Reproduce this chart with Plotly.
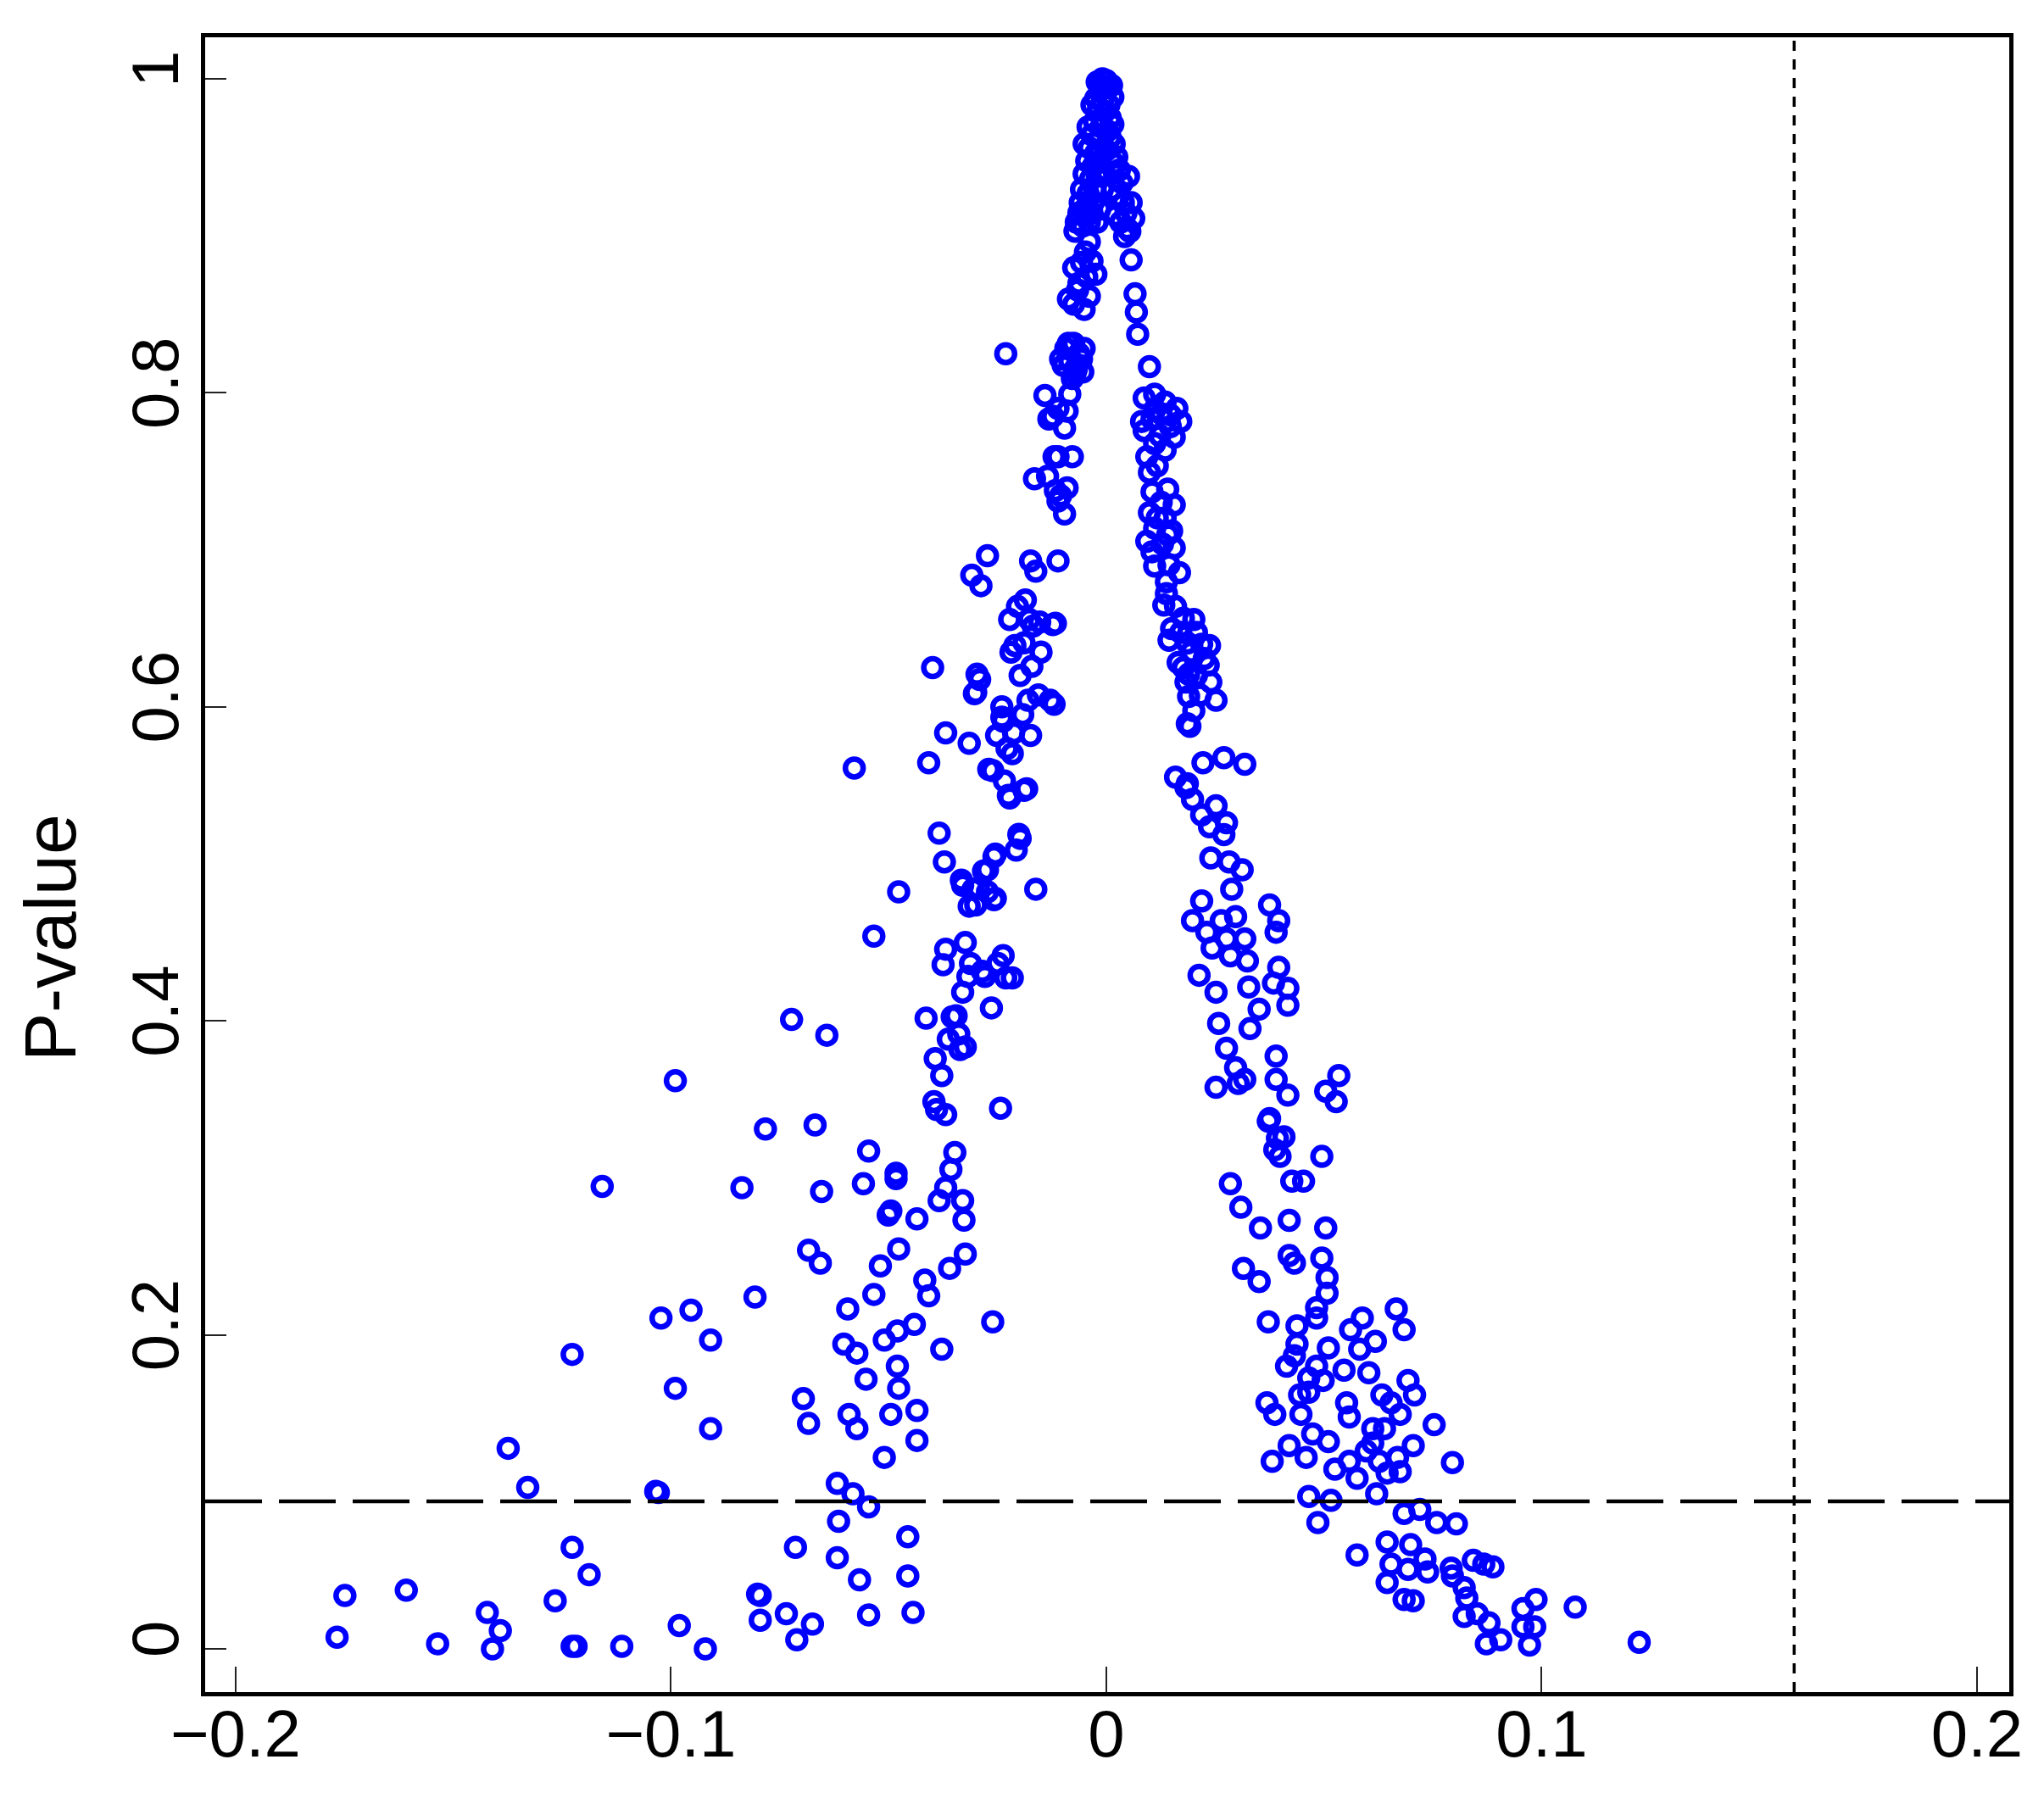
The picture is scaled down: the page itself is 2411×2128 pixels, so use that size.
import plotly.graph_objects as go

# (effect, p-value) pairs, grouped by region
left_tail = [
    (-0.1767, 0.0075), (-0.1749, 0.0340), (-0.1608, 0.0374), (-0.1536, 0.0033),
    (-0.1422, 0.0232), (-0.1392, 0.0116), (-0.1410, 0.0000), (-0.1374, 0.1278),
    (-0.1329, 0.1029), (-0.1266, 0.0307), (-0.1227, 0.1876), (-0.1227, 0.0647),
    (-0.1227, 0.0017), (-0.1218, 0.0017), (-0.1188, 0.0473), (-0.1158, 0.2946),
    (-0.1113, 0.0017), (-0.1035, 0.1004), (-0.1029, 0.0996), (-0.1023, 0.2108),
    (-0.0990, 0.3619), (-0.0990, 0.1660), (-0.0981, 0.0149), (-0.0954, 0.2158),
    (-0.0921, 0.0000), (-0.0909, 0.1967), (-0.0909, 0.1403), (-0.0837, 0.2938),
    (-0.0807, 0.2241), (-0.0795, 0.0340), (-0.0801, 0.0349), (-0.0795, 0.0183),
    (-0.0783, 0.3312), (-0.0723, 0.4009), (-0.0642, 0.3909), (-0.0579, 0.5611),
]

left_low = [
    (-0.0669, 0.3337), (-0.0654, 0.2913), (-0.0546, 0.3171), (-0.0558, 0.2963),
    (-0.0483, 0.3030), (-0.0483, 0.2996), (-0.0495, 0.2789), (-0.0501, 0.2764),
    (-0.0435, 0.2739), (-0.0384, 0.2855), (-0.0369, 0.2938), (-0.0357, 0.3054),
    (-0.0348, 0.3162), (-0.0330, 0.2855), (-0.0327, 0.2731), (-0.0684, 0.2540),
    (-0.0657, 0.2457), (-0.0519, 0.2440), (-0.0477, 0.2548), (-0.0534, 0.2258),
    (-0.0594, 0.2166), (-0.0417, 0.2349), (-0.0408, 0.2249), (-0.0324, 0.2515),
    (-0.0360, 0.2424), (-0.0603, 0.1942), (-0.0573, 0.1884), (-0.0552, 0.1718),
    (-0.0510, 0.1967), (-0.0480, 0.2025), (-0.0441, 0.2067), (-0.0480, 0.1801),
    (-0.0477, 0.1660), (-0.0378, 0.1909), (-0.0261, 0.2083), (-0.0696, 0.1594),
    (-0.0684, 0.1436), (-0.0591, 0.1494), (-0.0573, 0.1403), (-0.0495, 0.1494),
    (-0.0435, 0.1519), (-0.0435, 0.1328), (-0.0510, 0.1220), (-0.0618, 0.1054),
    (-0.0582, 0.0988), (-0.0546, 0.0905), (-0.0615, 0.0813), (-0.0714, 0.0647),
    (-0.0618, 0.0581), (-0.0567, 0.0440), (-0.0456, 0.0714), (-0.0456, 0.0465),
    (-0.0735, 0.0224), (-0.0675, 0.0158), (-0.0711, 0.0058), (-0.0546, 0.0216),
    (-0.0444, 0.0232),
]

left_mid = [
    (-0.0414, 0.4017), (-0.0399, 0.6250), (-0.0408, 0.5644), (-0.0384, 0.5196),
    (-0.0372, 0.5013), (-0.0369, 0.5835), (-0.0375, 0.4358), (-0.0393, 0.3760),
    (-0.0396, 0.3486), (-0.0390, 0.3436), (-0.0369, 0.3403), (-0.0363, 0.3884),
    (-0.0354, 0.4026), (-0.0336, 0.3818), (-0.0324, 0.4499), (-0.0318, 0.4283),
    (-0.0333, 0.4897), (-0.0315, 0.5768), (-0.0315, 0.4731), (-0.0309, 0.6839),
    (-0.0303, 0.6084), (-0.0297, 0.6208), (-0.0294, 0.4847), (-0.0288, 0.6772),
    (-0.0285, 0.4316), (-0.0282, 0.4955), (-0.0273, 0.6963), (-0.0273, 0.4822),
    (-0.0270, 0.5602), (-0.0264, 0.4083), (-0.0258, 0.4772), (-0.0258, 0.5046),
    (-0.0252, 0.5818), (-0.0249, 0.4366), (-0.0243, 0.3444), (-0.0240, 0.5934),
    (-0.0237, 0.4416), (-0.0234, 0.5528), (-0.0231, 0.8250), (-0.0231, 0.4274),
    (-0.0225, 0.5436), (-0.0222, 0.6557), (-0.0219, 0.6349), (-0.0216, 0.5702),
    (-0.0210, 0.6391), (-0.0207, 0.5088), (-0.0204, 0.6640), (-0.0201, 0.5188),
    (-0.0198, 0.6200), (-0.0192, 0.5951), (-0.0189, 0.6408), (-0.0186, 0.6681),
    (-0.0183, 0.5478), (-0.0180, 0.6042), (-0.0177, 0.6557), (-0.0174, 0.6930),
    (-0.0171, 0.6258), (-0.0168, 0.6515), (-0.0165, 0.7453), (-0.0162, 0.4839),
    (-0.0162, 0.6864), (-0.0156, 0.6076), (-0.0153, 0.6540), (-0.0150, 0.6349),
    (-0.0129, 0.6042), (-0.0123, 0.6524), (-0.0111, 0.6930), (-0.0117, 0.6532),
    (-0.0120, 0.6017), (-0.0330, 0.4864), (-0.0300, 0.4739), (-0.0306, 0.4839),
    (-0.0273, 0.4963), (-0.0255, 0.5063), (-0.0255, 0.4781), (-0.0198, 0.5163),
    (-0.0477, 0.4822), (-0.0534, 0.4540), (-0.0369, 0.4457), (-0.0312, 0.4366),
    (-0.0279, 0.4283), (-0.0216, 0.4274), (-0.0330, 0.4183), (-0.0345, 0.4033),
    (-0.0339, 0.3917), (-0.0324, 0.3834), (-0.0378, 0.3652), (-0.0291, 0.6175),
    (-0.0300, 0.6092), (-0.0261, 0.5594), (-0.0228, 0.5735), (-0.0222, 0.5420),
    (-0.0189, 0.5469), (-0.0174, 0.5818), (-0.0237, 0.5909), (-0.0213, 0.5835),
    (-0.0240, 0.6001),
]

peak = [
    (-0.0141, 0.7984), (-0.0135, 0.7469), (-0.0132, 0.7834), (-0.0120, 0.7594),
    (-0.0117, 0.7378), (-0.0105, 0.7345), (-0.0096, 0.7229), (-0.0111, 0.7594),
    (-0.0078, 0.7594), (-0.0090, 0.7395), (-0.0111, 0.7311), (-0.0111, 0.7901),
    (-0.0084, 0.7992), (-0.0123, 0.7851), (-0.0090, 0.7884), (-0.0096, 0.7776),
    (-0.0105, 0.8216), (-0.0093, 0.8283), (-0.0075, 0.8316), (-0.0063, 0.8250),
    (-0.0084, 0.8200), (-0.0069, 0.8150), (-0.0099, 0.8175), (-0.0057, 0.8216),
    (-0.0072, 0.8125), (-0.0087, 0.8316), (-0.0051, 0.8283), (-0.0078, 0.8092),
    (-0.0054, 0.8133),
    (-0.0072, 0.9030), (-0.0039, 0.8963), (-0.0048, 0.8897),
    (-0.0057, 0.8831), (-0.0045, 0.8739), (-0.0087, 0.8598), (-0.0066, 0.8656),
    (-0.0033, 0.8839), (-0.0075, 0.8797), (-0.0024, 0.8756), (-0.0063, 0.8698),
    (-0.0039, 0.8615), (-0.0075, 0.8565), (-0.0051, 0.8532),
    (-0.0021, 0.9980), (-0.0009, 1.0000), (0.0000, 0.9990), (-0.0015, 0.9959),
    (-0.0003, 0.9943), (-0.0024, 0.9876), (-0.0009, 0.9859), (-0.0018, 0.9810),
    (-0.0003, 0.9793), (-0.0027, 0.9727), (-0.0012, 0.9694), (-0.0033, 0.9644),
    (-0.0018, 0.9611), (-0.0039, 0.9561), (-0.0024, 0.9528), (-0.0045, 0.9478),
    (-0.0030, 0.9445), (-0.0015, 0.9478), (-0.0051, 0.9395), (-0.0036, 0.9362),
    (-0.0021, 0.9379), (-0.0057, 0.9296), (-0.0042, 0.9270), (-0.0027, 0.9296),
    (-0.0060, 0.9212), (-0.0045, 0.9187), (-0.0030, 0.9212), (-0.0063, 0.9146),
    (-0.0048, 0.9129), (-0.0033, 0.9146), (-0.0069, 0.9088), (-0.0054, 0.9063),
    (0.0006, 0.9951), (0.0015, 0.9884), (-0.0033, 0.9834), (0.0009, 0.9751),
    (-0.0042, 0.9694), (0.0003, 0.9669), (-0.0051, 0.9586), (0.0000, 0.9545),
    (-0.0006, 0.9420), (-0.0009, 0.9296), (-0.0015, 0.9170), (-0.0021, 0.9088),
    (-0.0039, 0.9088),
    (0.0012, 0.9959), (0.0006, 0.9834), (0.0015, 0.9710), (0.0009, 0.9627),
    (0.0024, 0.9503), (0.0030, 0.9420), (0.0036, 0.9337), (0.0027, 0.9254),
    (0.0039, 0.9212), (0.0045, 0.9146), (0.0033, 0.9088), (0.0048, 0.9046),
    (0.0042, 0.8996), (0.0057, 0.9212), (0.0051, 0.9379), (0.0018, 0.9585),
    (0.0018, 0.9461), (0.0063, 0.9112), (0.0054, 0.9029), (0.0021, 0.9129),
    (0.0015, 0.9296),
]

right_upper = [
    (0.0057, 0.8847), (0.0066, 0.8631), (0.0069, 0.8515), (0.0072, 0.8374),
    (0.0099, 0.8167), (0.0087, 0.7967), (0.0111, 0.7992), (0.0135, 0.7942),
    (0.0162, 0.7901), (0.0171, 0.7818), (0.0147, 0.7785), (0.0105, 0.7834),
    (0.0126, 0.7868), (0.0087, 0.7760), (0.0111, 0.7677), (0.0135, 0.7635),
    (0.0093, 0.7594), (0.0117, 0.7536), (0.0099, 0.7494), (0.0105, 0.7370),
    (0.0111, 0.7893), (0.0147, 0.7860), (0.0123, 0.7727), (0.0081, 0.7818),
    (0.0156, 0.7718), (0.0117, 0.7204), (0.0141, 0.7096), (0.0105, 0.6988),
    (0.0156, 0.7013),
    (0.0141, 0.7387), (0.0126, 0.7303), (0.0156, 0.7287), (0.0099, 0.7237),
    (0.0135, 0.7204), (0.0111, 0.7138), (0.0150, 0.7121), (0.0093, 0.7055),
    (0.0129, 0.7038), (0.0111, 0.6897), (0.0144, 0.6905), (0.0168, 0.6855),
    (0.0138, 0.6797), (0.0138, 0.6722), (0.0159, 0.6640), (0.0150, 0.6499),
    (0.0177, 0.6565), (0.0144, 0.6424), (0.0132, 0.6648), (0.0171, 0.6474),
    (0.0201, 0.6557), (0.0186, 0.6407), (0.0219, 0.6399), (0.0237, 0.6391),
    (0.0234, 0.6266), (0.0240, 0.6158), (0.0252, 0.6042), (0.0192, 0.5876),
    (0.0177, 0.6250), (0.0183, 0.6158), (0.0189, 0.6067), (0.0186, 0.5893),
    (0.0207, 0.6200), (0.0216, 0.6075), (0.0201, 0.5976), (0.0165, 0.6283),
    (0.0195, 0.6349), (0.0207, 0.6474), (0.0225, 0.6308), (0.0189, 0.6208),
    (0.0222, 0.5644), (0.0270, 0.5677), (0.0318, 0.5635), (0.0159, 0.5552),
    (0.0186, 0.5511), (0.0198, 0.5411), (0.0252, 0.5370), (0.0219, 0.5312),
    (0.0237, 0.5237), (0.0270, 0.5187), (0.0276, 0.5262), (0.0183, 0.5486),
    (0.0240, 0.5038), (0.0282, 0.5013), (0.0312, 0.4963), (0.0288, 0.4838),
    (0.0219, 0.4764), (0.0198, 0.4639), (0.0231, 0.4565), (0.0264, 0.4639),
    (0.0297, 0.4664), (0.0276, 0.4523), (0.0318, 0.4523), (0.0243, 0.4465),
    (0.0285, 0.4415), (0.0324, 0.4382), (0.0327, 0.4216), (0.0213, 0.4291),
    (0.0252, 0.4183), (0.0258, 0.3984), (0.0330, 0.3951), (0.0351, 0.4075),
    (0.0375, 0.4739), (0.0396, 0.4639), (0.0390, 0.4565), (0.0396, 0.4341),
    (0.0384, 0.4241), (0.0417, 0.4208), (0.0417, 0.4100), (0.0276, 0.3826),
    (0.0297, 0.3702), (0.0252, 0.3577), (0.0303, 0.3602), (0.0318, 0.3627),
    (0.0390, 0.3776), (0.0390, 0.3627), (0.0417, 0.3527), (0.0375, 0.3378),
    (0.0534, 0.3652), (0.0504, 0.3552), (0.0528, 0.3486),
]

right_lower = [
    (0.0372, 0.3361), (0.0393, 0.3253), (0.0408, 0.3262), (0.0387, 0.3179),
    (0.0399, 0.3137), (0.0495, 0.3137), (0.0285, 0.2963), (0.0309, 0.2813),
    (0.0354, 0.2681), (0.0420, 0.2730), (0.0504, 0.2681), (0.0426, 0.2979),
    (0.0453, 0.2979), (0.0315, 0.2423), (0.0351, 0.2340), (0.0420, 0.2506),
    (0.0432, 0.2457), (0.0495, 0.2490), (0.0507, 0.2365), (0.0507, 0.2266),
    (0.0483, 0.2174), (0.0483, 0.2108), (0.0372, 0.2083), (0.0438, 0.2058),
    (0.0438, 0.1942), (0.0432, 0.1867), (0.0414, 0.1801), (0.0510, 0.1917),
    (0.0666, 0.2166), (0.0684, 0.2033), (0.0588, 0.2108), (0.0561, 0.2033),
    (0.0618, 0.1959), (0.0582, 0.1909), (0.0603, 0.1759), (0.0546, 0.1776),
    (0.0483, 0.1801), (0.0465, 0.1726), (0.0498, 0.1710), (0.0369, 0.1568),
    (0.0387, 0.1494), (0.0444, 0.1618), (0.0447, 0.1494), (0.0465, 0.1635),
    (0.0552, 0.1568), (0.0558, 0.1477), (0.0633, 0.1618), (0.0654, 0.1568),
    (0.0675, 0.1494), (0.0693, 0.1710), (0.0708, 0.1618), (0.0753, 0.1428),
    (0.0474, 0.1369), (0.0420, 0.1295), (0.0459, 0.1220), (0.0381, 0.1195),
    (0.0510, 0.1320), (0.0525, 0.1145), (0.0558, 0.1195), (0.0576, 0.1087),
    (0.0597, 0.1261), (0.0612, 0.1403), (0.0612, 0.1311), (0.0639, 0.1403),
    (0.0627, 0.1195), (0.0645, 0.1120), (0.0669, 0.1220), (0.0675, 0.1129),
    (0.0705, 0.1295), (0.0795, 0.1187), (0.0465, 0.0971), (0.0516, 0.0946),
    (0.0486, 0.0805), (0.0621, 0.0988), (0.0684, 0.0863), (0.0720, 0.0888),
    (0.0759, 0.0805), (0.0804, 0.0797), (0.0576, 0.0598), (0.0645, 0.0681),
    (0.0699, 0.0664), (0.0645, 0.0423), (0.0654, 0.0540), (0.0693, 0.0506),
    (0.0732, 0.0573), (0.0738, 0.0490), (0.0684, 0.0315), (0.0705, 0.0307),
    (0.0792, 0.0515), (0.0795, 0.0465), (0.0843, 0.0564), (0.0867, 0.0540),
    (0.0888, 0.0523), (0.0822, 0.0390), (0.0828, 0.0324), (0.0822, 0.0207),
    (0.0852, 0.0224), (0.0879, 0.0166), (0.0873, 0.0033), (0.0906, 0.0058),
    (0.0957, 0.0257), (0.0987, 0.0315), (0.0957, 0.0141), (0.0984, 0.0141),
    (0.0972, 0.0025), (0.1077, 0.0266), (0.1224, 0.0042),
]

groups = [left_tail, left_low, left_mid, peak, right_upper, right_lower]
effect = [p[0] for g in groups for p in g]
pvalue = [p[1] for g in groups for p in g]

p_threshold = 0.094
effect_threshold = 0.158

x_ticks = [-0.2, -0.1, 0, 0.1, 0.2]
x_tick_labels = ["\u22120.2", "\u22120.1", "0", "0.1", "0.2"]
y_ticks = [0, 0.2, 0.4, 0.6, 0.8, 1]
y_tick_labels = ["0", "0.2", "0.4", "0.6", "0.8", "1"]

FONT = "Liberation Sans, Arial, Helvetica, sans-serif"

fig = go.Figure()
fig.add_trace(go.Scatter(
    x=effect, y=pvalue, mode="markers",
    marker=dict(symbol="circle-open", size=21, color="#0000FF",
                line=dict(width=6.5, color="#0000FF")),
    showlegend=False, hoverinfo="x+y",
))

fig.add_shape(type="line", xref="paper", x0=0, x1=1, yref="y",
              y0=p_threshold, y1=p_threshold,
              line=dict(color="black", width=4.5, dash="67px,20px"))
fig.add_shape(type="line", xref="x", x0=effect_threshold, x1=effect_threshold,
              yref="paper", y0=0, y1=1,
              line=dict(color="black", width=3.5, dash="12px,10px"))

axis_common = dict(
    ticks="inside", tickwidth=2, tickcolor="#222222",
    showline=True, linewidth=4.5, linecolor="black", mirror=True,
    showgrid=False, zeroline=False,
    tickfont=dict(family=FONT, size=78, color="black"),
)

fig.update_layout(
    width=2411, height=2128,
    margin=dict(l=234, r=49, t=36, b=140),
    paper_bgcolor="white", plot_bgcolor="white",
    xaxis=dict(range=[-0.207, 0.2074], tickvals=x_ticks, ticktext=x_tick_labels,
               ticklen=30, ticklabelstandoff=-22, **axis_common),
    yaxis=dict(range=[-0.0275, 1.0265], tickvals=y_ticks, ticktext=y_tick_labels,
               ticklen=25, tickangle=-90, ticklabelstandoff=-4, **axis_common),
    annotations=[dict(
        text="P-value", xref="paper", yref="paper",
        x=-0.086, y=0.456, xanchor="center", yanchor="middle",
        textangle=-90, showarrow=False,
        font=dict(family=FONT, size=86, color="black"),
    )],
)

fig.write_html("out.html")
